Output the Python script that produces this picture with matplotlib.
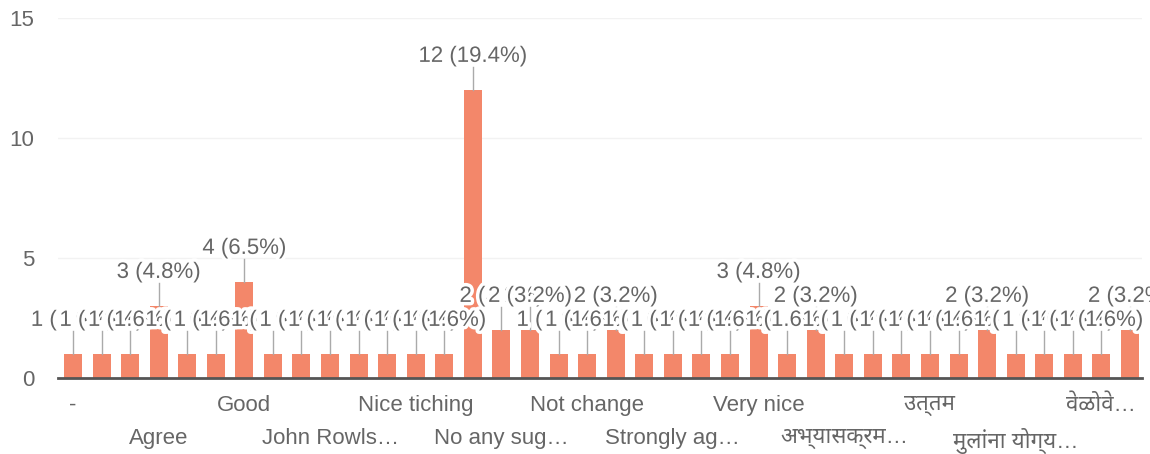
import numpy as np
import matplotlib.pyplot as plt
import matplotlib.patheffects as pe
from matplotlib import font_manager

# response categories (sorted as in the form summary); unread ones left blank
categories = ["-", "", "", "Agree", "", "", "Good", "", "", "John Rowls…",
              "", "", "Nice tiching", "", "", "No any sug…", "", "",
              "Not change", "", "", "Strongly ag…", "", "", "Very nice",
              "", "", "अभ्यासक्रम…", "", "", "उत्तम", "", "",
              "मुलांना योग्य…", "", "", "वेळोवे…", ""]
counts = [1, 1, 1, 3, 1, 1, 4, 1, 1, 1,
          1, 1, 1, 1, 12, 2, 2, 1, 1, 2,
          1, 1, 1, 1, 3, 1, 2, 1, 1, 1,
          1, 1, 2, 1, 1, 1, 1, 2]
y_ticks = [0, 5, 10, 15]

# look for any font that can draw Devanagari
families = ["Liberation Sans", "Noto Sans"]
for f in font_manager.fontManager.ttflist:
    if any(k in f.name for k in ("Devanagari", "Lohit", "FreeSans", "Mukta", "Mangal")):
        if f.name not in families:
            families.append(f.name)
families.append("DejaVu Sans")
plt.rcParams["font.family"] = families

bar_color = "#f3876a"
text_color = "#666666"
total = sum(counts)
x = np.arange(len(counts))

fig = plt.figure(figsize=(11.5, 4.54), dpi=100)
ax = fig.add_axes([0.0504, 0.1674, 0.9426, 0.793])

ax.bar(x, counts, width=0.63, color=bar_color, zorder=2)
ax.set_xlim(-0.525, 37.42)
ax.set_ylim(0, 15)

for s in ["top", "right", "left"]:
    ax.spines[s].set_visible(False)
ax.spines["bottom"].set_color("#555555")
ax.spines["bottom"].set_linewidth(2)
ax.spines["bottom"].set_zorder(3)

ax.set_yticks(y_ticks)
ax.yaxis.grid(True, color="#f2f2f2", linewidth=1, zorder=0)
ax.tick_params(axis="y", length=0, pad=17, labelsize=16, labelcolor=text_color)

# every third category label, alternating on two rows (major / minor ticks)
row1 = x[0::6]
row2 = x[3::6]
ax.set_xticks(row1)
ax.set_xticklabels([categories[i] for i in row1])
ax.set_xticks(row2, minor=True)
ax.set_xticklabels([categories[i] for i in row2], minor=True)
ax.tick_params(axis="x", which="major", length=0, pad=12, labelsize=16, labelcolor=text_color)
ax.tick_params(axis="x", which="minor", length=0, pad=36, labelsize=16, labelcolor=text_color)

# value labels with white halo, drawn in order so they overlap like the original
for xi, c in zip(x, counts):
    ly = c + 1.4
    ax.plot([xi, xi], [c, ly - 0.45], color="#aaaaaa", linewidth=1, zorder=3)
    ax.text(xi, ly, f"{c} ({c / total * 100:.1f}%)", ha="center", va="center",
            fontsize=16, color=text_color, zorder=4, clip_on=False,
            path_effects=[pe.withStroke(linewidth=5, foreground="white")])

fig.savefig("out.png", dpi=100)
